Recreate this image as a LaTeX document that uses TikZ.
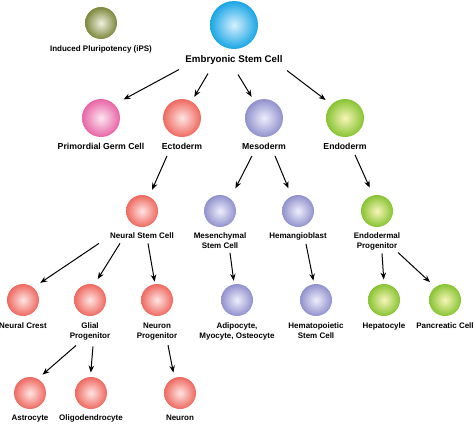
\documentclass[tikz,border=0pt]{standalone}
\usepackage{fontspec}
\setmainfont{Liberation Sans}
\usetikzlibrary{arrows.meta, positioning}

\definecolor{ipsout}{RGB}{125,135,60}
\definecolor{ipsin}{RGB}{240,242,225}
\definecolor{escout}{RGB}{25,165,228}
\definecolor{escin}{RGB}{215,240,255}
\definecolor{pgcout}{RGB}{232,100,165}
\definecolor{pgcin}{RGB}{252,230,242}
\definecolor{ectoout}{RGB}{238,105,95}
\definecolor{ectoin}{RGB}{255,228,228}
\definecolor{mesoout}{RGB}{145,145,205}
\definecolor{mesoin}{RGB}{238,238,252}
\definecolor{endoout}{RGB}{135,195,50}
\definecolor{endoin}{RGB}{248,245,185}

\begin{document}
\begin{tikzpicture}[
            > = {Stealth[length=7pt, width=5.5pt]}, % arrow head style
            shorten > = 5pt, % gap between arrow head and cell
            x = 1pt, y = -1pt, % pixel grid, y runs down
            line width = 1pt % line style
        ]

        \tikzstyle{cell}=[
            circle,
            inner sep = 0pt,
            minimum size = 32pt,
            shading = radial
        ]
        \tikzstyle{ipscell}=[cell, inner color = ipsin, outer color = ipsout]
        \tikzstyle{esccell}=[cell, inner color = escin, outer color = escout, minimum size = 48pt]
        \tikzstyle{pgccell}=[cell, inner color = pgcin, outer color = pgcout]
        \tikzstyle{ectocell}=[cell, inner color = ectoin, outer color = ectoout]
        \tikzstyle{mesocell}=[cell, inner color = mesoin, outer color = mesoout]
        \tikzstyle{endocell}=[cell, inner color = endoin, outer color = endoout]
        \tikzstyle{germ}=[minimum size = 38pt]
        \tikzstyle{lbl}=[
            inner sep = 0pt,
            align = center,
            font = \bfseries\fontsize{8}{9.5}\selectfont
        ]

        \useasboundingbox (0,0) rectangle (474,424);

	\node[ipscell] (ips) at (101,23) {};
	\node[esccell] (esc) at (234,25) {};
	\node[pgccell, germ] (pgc) at (101,118) {};
	\node[ectocell, germ] (ecto) at (182,118) {};
	\node[mesocell, germ] (meso) at (264,118) {};
	\node[endocell, germ] (endo) at (345,118) {};
	\node[ectocell] (nsc) at (142,211) {};
	\node[mesocell] (msc) at (220,211) {};
	\node[mesocell] (hemo) at (298,211) {};
	\node[endocell] (endop) at (377,211) {};
	\node[ectocell] (crest) at (23,300) {};
	\node[ectocell] (glial) at (90,300) {};
	\node[ectocell] (neurp) at (157,300) {};
	\node[mesocell] (adipo) at (237,300) {};
	\node[mesocell] (hsc) at (316,300) {};
	\node[endocell] (hepa) at (384,300) {};
	\node[endocell] (panc) at (445,300) {};
	\node[ectocell] (astro) at (30,393) {};
	\node[ectocell] (oligo) at (91,393) {};
	\node[ectocell] (neuron) at (180,393) {};

	\node[lbl, below = 6pt of ips] (ipsl) {Induced Pluripotency (iPS)};
	\node[lbl, below = 5pt of esc, font = \bfseries\fontsize{9.7}{11}\selectfont] (escl) {Embryonic Stem Cell};
	\node[lbl, below = 5pt of pgc, font = \bfseries\fontsize{8.7}{10}\selectfont] (pgcl) {Primordial Germ Cell};
	\node[lbl, below = 5pt of ecto, font = \bfseries\fontsize{8.7}{10}\selectfont] (ectol) {Ectoderm};
	\node[lbl, below = 5pt of meso, font = \bfseries\fontsize{8.7}{10}\selectfont] (mesol) {Mesoderm};
	\node[lbl, below = 5pt of endo, font = \bfseries\fontsize{8.7}{10}\selectfont] (endol) {Endoderm};
	\node[lbl, below = 5pt of nsc] (nscl) {Neural Stem Cell};
	\node[lbl, below = 5pt of msc] (mscl) {Mesenchymal\\Stem Cell};
	\node[lbl, below = 5pt of hemo] (hemol) {Hemangioblast};
	\node[lbl, below = 5pt of endop] (endopl) {Endodermal\\Progenitor};
	\node[lbl, below = 6pt of crest] (crestl) {Neural Crest};
	\node[lbl, below = 6pt of glial] (gliall) {Glial\\Progenitor};
	\node[lbl, below = 6pt of neurp] (neurpl) {Neuron\\Progenitor};
	\node[lbl, below = 6pt of adipo] (adipol) {Adipocyte,\\Myocyte, Osteocyte};
	\node[lbl, below = 6pt of hsc] (hscl) {Hematopoietic\\Stem Cell};
	\node[lbl, below = 6pt of hepa] (hepal) {Hepatocyle};
	\node[lbl, below = 6pt of panc] (pancl) {Pancreatic Cell};
	\node[lbl, below = 5pt of astro] (astrol) {Astrocyte};
	\node[lbl, below = 5pt of oligo] (oligol) {Oligodendrocyte};
	\node[lbl, below = 5pt of neuron] (neuronl) {Neuron};

	% embryonic stem cell -> germ layers
	\draw[->, shorten >=10pt] ([xshift=-55pt, yshift=-5pt]escl.south) -- (pgc.45);
	\draw[->] ([xshift=-26pt, yshift=-9pt]escl.south) -- (ecto.60);
	\draw[->] ([xshift=4pt, yshift=-10pt]escl.south) -- (meso.120);
	\draw[->, shorten >=7pt] ([xshift=53pt, yshift=-6pt]escl.south) -- (endo.135);

	% germ layers -> progenitors
	\draw[->, shorten >=7pt] ([xshift=-15pt, yshift=-6pt]ectol.south) -- (nsc.64);
	\draw[->, shorten >=11pt] ([xshift=-12pt, yshift=-6pt]mesol.south) -- (msc.51);
	\draw[->, shorten >=8pt] ([xshift=11pt, yshift=-6pt]mesol.south) -- (hemo.113);
	\draw[->, shorten >=8pt] ([xshift=10pt, yshift=-5pt]endol.south) -- (endop.104);

	% progenitors -> cells
	\draw[->, shorten >=8pt] ([xshift=-43pt, yshift=-4pt]nscl.south) -- (crest.50);
	\draw[->, shorten >=6pt] ([xshift=-22pt, yshift=-4pt]nscl.south) -- (glial.74);
	\draw[->, shorten >=2pt] ([xshift=6pt, yshift=-4pt]nscl.south) -- (neurp.97);
	\draw[->, shorten >=3pt] ([xshift=10pt, yshift=-4pt]mscl.south) -- (adipo.100);
	\draw[->, shorten >=3pt] ([xshift=8pt, yshift=-3pt]hemol.south) -- (hsc.97);
	\draw[->, shorten >=4pt] ([xshift=5pt, yshift=-3pt]endopl.south) -- (hepa.90);
	\draw[->, shorten >=7pt] ([xshift=21pt, yshift=-2pt]endopl.south) -- (panc.127);

	% glial and neuron progenitors
	\draw[->, shorten >=6pt] ([xshift=-14pt, yshift=-5pt]gliall.south) -- (astro.61);
	\draw[->, shorten >=4pt] ([xshift=3pt, yshift=-6pt]gliall.south) -- (oligo.92);
	\draw[->] ([xshift=11pt, yshift=-5pt]neurpl.south) -- (neuron.110);

    \end{tikzpicture}
\end{document}
